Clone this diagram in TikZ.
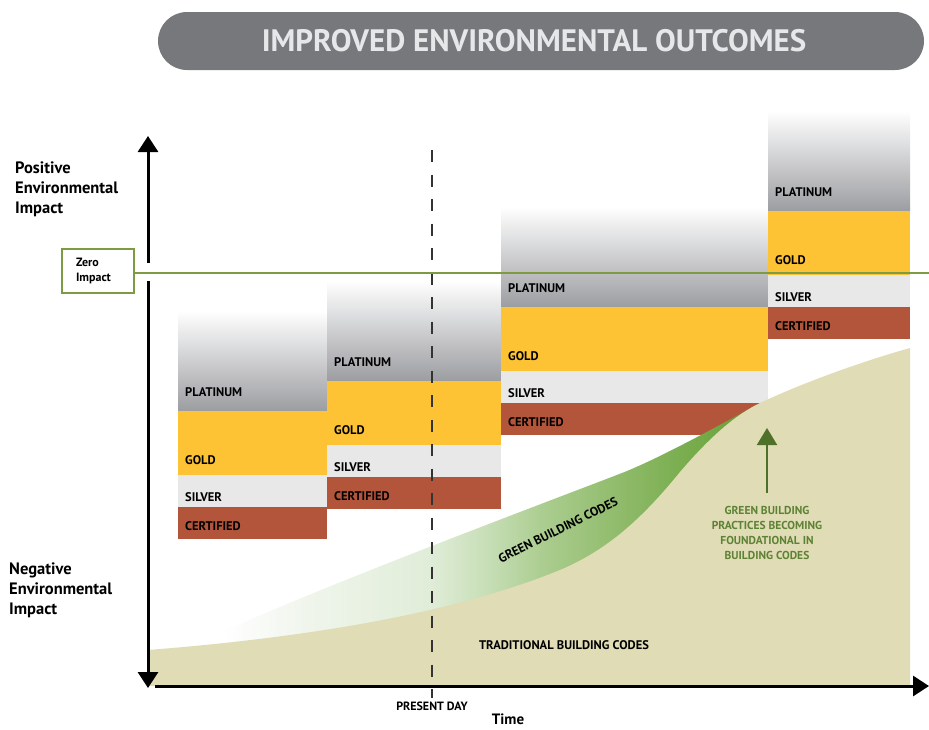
\documentclass[tikz,border=0pt]{standalone}
\usepackage{fontspec}
\setmainfont{PT Sans}
\usetikzlibrary{arrows.meta}

\definecolor{barGray}{HTML}{77787B}
\definecolor{titleText}{HTML}{E6E7E8}
\definecolor{platGray}{HTML}{9C9DA1}
\definecolor{goldTier}{HTML}{FDC334}
\definecolor{silverTier}{HTML}{E8E8E8}
\definecolor{certTier}{HTML}{B3553A}
\definecolor{zeroGreen}{HTML}{7D9B43}
\definecolor{codeBeige}{HTML}{E0DCB5}
\definecolor{codeGreen}{HTML}{6AA03A}
\definecolor{fadeA}{HTML}{F0F5EC}
\definecolor{fadeB}{HTML}{E0EDD8}
\definecolor{fadeC}{HTML}{C8DFB8}
\definecolor{fadeD}{HTML}{AACC8E}
\definecolor{fadeE}{HTML}{90BB6B}
\definecolor{fadeF}{HTML}{7AAE50}
\definecolor{noteGreen}{HTML}{5E8235}
\definecolor{arrowGreen}{HTML}{4F7028}
\definecolor{dashGray}{HTML}{333333}

\pgfdeclarehorizontalshading{greenfade}{100bp}{color(0bp)=(white); color(31bp)=(white);
  color(38bp)=(fadeA); color(48bp)=(fadeB); color(52.5bp)=(fadeC); color(57.5bp)=(fadeD);
  color(63.5bp)=(fadeE); color(68.5bp)=(fadeF); color(74bp)=(codeGreen); color(100bp)=(codeGreen)}

\newcommand{\fsize}[2]{\fontsize{#1}{#2}\selectfont}

\tikzset{
  tierlabel/.style={anchor=base west, inner sep=0pt, font=\bfseries\fsize{12.5}{14}},
  axislabel/.style={anchor=west, align=left, inner sep=0pt, font=\bfseries\fsize{16.5}{20}},
  axisline/.style={line width=3pt, -{Triangle[length=16pt, width=20pt]}},
}

\begin{document}
\begin{tikzpicture}[x=1pt, y=-1pt]
    \useasboundingbox (0, 0) rectangle (929, 729);

    \fill[barGray, rounded corners=29pt] (158, 12) rectangle (924, 70);
    \node[text=titleText, font=\bfseries\fsize{31}{31}] (title) at (534, 41) {IMPROVED ENVIRONMENTAL OUTCOMES};

    \foreach \xa/\xb/\yp [count=\i] in {178/327/411, 327/501/381, 501/768/307, 768/910/211} {
      \shade[top color=white, bottom color=platGray] (\xa, \yp-100) rectangle (\xb, \yp);
      \fill[goldTier] (\xa, \yp) rectangle (\xb, \yp+64);
      \fill[silverTier] (\xa, \yp+64) rectangle (\xb, \yp+96);
      \fill[certTier] (\xa, \yp+96) rectangle (\xb, \yp+128);
      \node[tierlabel] (plat\i) at (\xa+7, \yp-15) {PLATINUM};
      \node[tierlabel] (gold\i) at (\xa+7, \yp+53) {GOLD};
      \node[tierlabel] (silver\i) at (\xa+7, \yp+90) {SILVER};
      \node[tierlabel] (cert\i) at (\xa+7, \yp+119) {CERTIFIED};
    }

    \shade[shading=greenfade]
      (148, 650) .. controls (185, 648) and (205, 640) .. (227, 630)
      .. controls (330, 583) and (560, 497) .. (622, 473)
      .. controls (660, 458) and (720, 425) .. (760, 403)
      -- (760, 686) -- (148, 686) -- cycle;
    \fill[codeBeige]
      (148, 650) .. controls (300, 638) and (450, 615) .. (560, 570)
      .. controls (610, 549) and (645, 515) .. (680, 472)
      .. controls (710, 437) and (735, 415) .. (760, 403)
      .. controls (800, 384) and (860, 362) .. (910, 348)
      -- (910, 686) -- (148, 686) -- cycle;

    \coordinate (presTop) at (432, 150);
    \coordinate (presBot) at (432, 698);
    \draw[dashGray, line width=2pt, dash pattern=on 12pt off 12.5pt] (presTop) -- (presBot);
    \node[font=\bfseries\fsize{12}{13}] (present) at (432, 706) {PRESENT DAY};

    \node[draw=zeroGreen, line width=2pt, text width=44pt, inner xsep=14pt, minimum height=44pt,
      align=left, font=\bfseries\fsize{12}{15}] (zero) at (98, 271) {Zero\\Impact};
    \coordinate (zeroEnd) at (929, 273);
    \draw[zeroGreen, line width=2pt] (zero.east |- zeroEnd) -- (zeroEnd);

    \coordinate (yTop) at (148, 136);
    \coordinate (yBot) at (148, 688);
    \coordinate (gapTop) at (148, 263);
    \coordinate (gapBot) at (148, 281);
    \coordinate (xStart) at (155, 686);
    \coordinate (xEnd) at (929, 686);
    \draw[axisline] (gapTop) -- (yTop);
    \draw[axisline] (gapBot) -- (yBot);
    \draw[axisline] (xStart) -- (xEnd);

    \node[axislabel] (poslabel) at (15, 189) {Positive\\Environmental\\Impact};
    \node[axislabel] (neglabel) at (9, 590) {Negative\\Environmental\\Impact};
    \node[inner sep=0pt, font=\bfseries\fsize{15}{16}] (timelabel) at (508, 719) {Time};

    \node[font=\bfseries\fsize{12.5}{14}] (tradcodes) at (564, 645) {TRADITIONAL BUILDING CODES};
    \node[font=\bfseries\fsize{12.5}{14}, rotate=26.5] (greencodes) at (558, 530) {GREEN BUILDING CODES};

    \node[text=noteGreen, align=center, font=\bfseries\fsize{11.5}{15}] (note) at (767, 533)
      {GREEN BUILDING\\PRACTICES BECOMING\\FOUNDATIONAL IN\\BUILDING CODES};
    \coordinate (noteFoot) at (767, 493);
    \coordinate (noteTip) at (767, 428);
    \draw[arrowGreen, line width=2pt, -{Triangle[length=17pt, width=20pt]}] (noteFoot) -- (noteTip);
  \end{tikzpicture}
\end{document}
